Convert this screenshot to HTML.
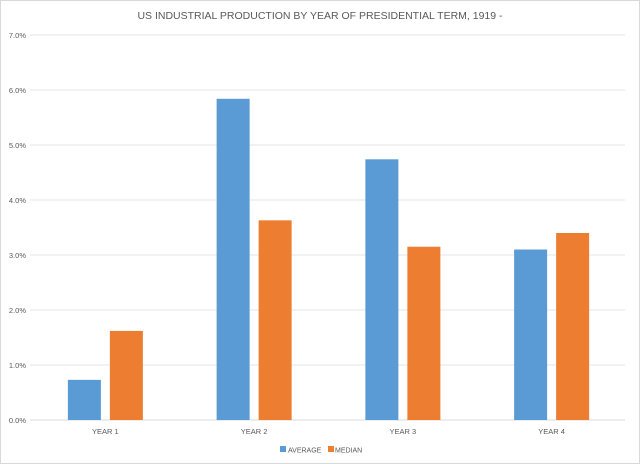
<!DOCTYPE html>
<html><head><meta charset="utf-8"><style>
body{margin:0;background:#fff;}
svg{display:block;font-family:"Liberation Sans",sans-serif;}
</style></head><body>
<svg id="chart" width="640" height="464">
<rect x="0.5" y="0.5" width="639" height="463" fill="#fff" stroke="#d9d9d9"/>
<text x="320" y="19" text-anchor="middle" font-size="10.5" fill="#595959">US INDUSTRIAL PRODUCTION BY YEAR OF PRESIDENTIAL TERM, 1919 -</text>
<g id="grid"></g><g id="bars"></g><g id="labels"></g>
<g>
<rect x="280" y="446" width="6" height="6" fill="#5b9bd5"/>
<text x="288" y="452.5" font-size="7" fill="#595959">AVERAGE</text>
<rect x="328" y="446" width="6" height="6" fill="#ed7d31"/>
<text x="335" y="452.5" font-size="7" fill="#595959">MEDIAN</text>
</g>
</svg>
<script>
const categories=["YEAR 1","YEAR 2","YEAR 3","YEAR 4"];
const averageValues=[0.73,5.84,4.74,3.10];
const medianValues=[1.62,3.63,3.15,3.40];
const yTicks=[0,1,2,3,4,5,6,7];
const L=31,R=626,T=35,B=420,MAX=7;
const ns="http://www.w3.org/2000/svg";
const y=v=>B-(v/MAX)*(B-T);
const cw=(R-L)/categories.length;
const cx=i=>L+cw*(i+0.5);
function mk(t,a,p){const e=document.createElementNS(ns,t);for(const k in a)e.setAttribute(k,a[k]);p.appendChild(e);return e;}
const g=document.getElementById('grid'),b=document.getElementById('bars'),lb=document.getElementById('labels');
yTicks.forEach(v=>{
 const ln=mk('line',{x1:30,x2:625,y1:y(v),y2:y(v),stroke:v===0?'#d9d9d9':'#e6e6e6','stroke-width':1},g);
 
 
 const t=mk('text',{x:26,y:y(v)+3,'text-anchor':'end','font-size':7.5,fill:'#595959'},lb);
 t.textContent=v.toFixed(1)+'%';
 
 
});
categories.forEach((c,i)=>{
 const a=mk('rect',{x:cx(i)-37.5,y:y(averageValues[i]),width:33,height:B-y(averageValues[i]),fill:'#5b9bd5'},b);
 
 
 const m=mk('rect',{x:cx(i)+4.5,y:y(medianValues[i]),width:33,height:B-y(medianValues[i]),fill:'#ed7d31'},b);
 
 
 const t=mk('text',{x:cx(i),y:434,'text-anchor':'middle','font-size':7.5,fill:'#595959'},lb);
 t.textContent=c;
 
 
});
</script>
</body></html>
